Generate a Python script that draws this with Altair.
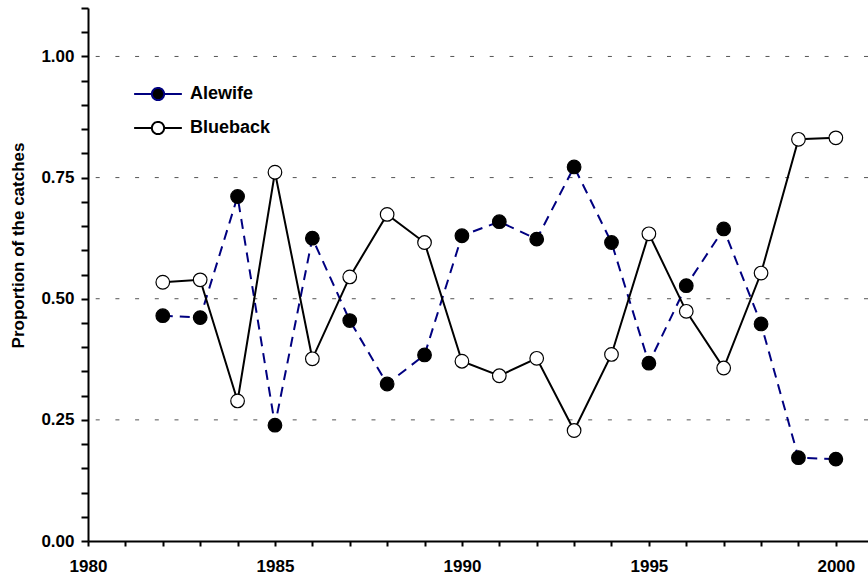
import altair as alt
import pandas as pd

years = list(range(1982, 2001))
alewife = [0.465, 0.461, 0.711, 0.239, 0.625, 0.455, 0.324, 0.384, 0.630, 0.659,
           0.623, 0.772, 0.616, 0.367, 0.527, 0.644, 0.448, 0.172, 0.169]
blueback = [0.534, 0.539, 0.289, 0.761, 0.376, 0.545, 0.674, 0.616, 0.371, 0.341,
            0.377, 0.228, 0.385, 0.634, 0.474, 0.357, 0.553, 0.829, 0.832]
series_names = ["Alewife", "Blueback"]
grid_values = [0.25, 0.50, 0.75, 1.00]
x_ticks = list(range(1980, 2001))
y_ticks = [round(i * 0.05, 2) for i in range(23)]

rows = []
for name, vals in zip(series_names, [alewife, blueback]):
    for yr, v in zip(years, vals):
        rows.append({"year": yr, "value": v, "species": name})
df = pd.DataFrame(rows)
grid_df = pd.DataFrame({"g": grid_values})

FONT = "Liberation Sans"
x_scale = alt.Scale(domain=[1980, 2000.86], nice=False, zero=False)
y_scale = alt.Scale(domain=[0, 1.1], nice=False)

x_axis = alt.Axis(
    values=x_ticks, title=None, ticks=True,
    labelExpr="datum.value % 5 == 0 ? format(datum.value, 'd') : ''",
    labelFont=FONT, labelFontSize=17, labelFontWeight="bold", labelColor="black",
    labelPadding=12, labelFlush=False, labelOverlap=False,
    tickSize=5, tickWidth=2, tickColor="black",
    domainColor="black", domainWidth=2, grid=False,
)
y_axis = alt.Axis(
    values=y_ticks, title="Proportion of the catches", ticks=True,
    labelExpr="(abs(datum.value*4 - round(datum.value*4)) < 0.001 && datum.value <= 1.0001) ? format(datum.value, '.2f') : ''",
    labelFont=FONT, labelFontSize=17, labelFontWeight="bold", labelColor="black",
    labelPadding=7, labelFlush=False, labelOverlap=False,
    tickSize=7, tickWidth=2, tickColor="black",
    domainColor="black", domainWidth=2, grid=False,
    titleFont=FONT, titleFontSize=17, titleFontWeight="bold", titleColor="black",
    titleX=-70, titleY=237, titleAngle=270, titleAlign="center", titleBaseline="middle",
)

LEG_PATH = "M-3.9,0L-1,0M1,0L3.9,0M1,0A1,1,0,1,1,-1,0A1,1,0,1,1,1,0Z"


def make_legend():
    return alt.Legend(
        title=None, orient="none", legendX=61, legendY=77, padding=0,
        symbolType=LEG_PATH, symbolSize=150, symbolStrokeWidth=2,
        symbolOffset=0, labelOffset=23, rowPadding=12, symbolOpacity=1,
        symbolDash=[1, 0],
        labelFont=FONT, labelFontSize=18, labelFontWeight="bold", labelColor="black",
        labelBaseline="middle",
    )


X = alt.X("year:Q", scale=x_scale, axis=x_axis)
Y = alt.Y("value:Q", scale=y_scale, axis=y_axis)
stroke_scale = alt.Scale(domain=series_names, range=["#000080", "black"])

grid = alt.Chart(grid_df).mark_rule(color="#555555", strokeWidth=1, strokeDash=[4, 15.7]).encode(
    y=alt.Y("g:Q", scale=y_scale, axis=y_axis)
)

line_ale = alt.Chart(df).transform_filter(alt.datum.species == "Alewife").mark_line(
    strokeWidth=2, strokeDash=[10, 7]
).encode(
    x=X, y=Y,
    stroke=alt.Stroke("species:N", scale=stroke_scale, legend=make_legend()),
)

line_blue = alt.Chart(df).transform_filter(alt.datum.species == "Blueback").mark_line(
    strokeWidth=2
).encode(
    x=X, y=Y,
    stroke=alt.Stroke("species:N", scale=stroke_scale, legend=make_legend()),
)

points = alt.Chart(df).mark_point(shape="circle", filled=True, size=185, stroke="black", strokeWidth=1.2, opacity=1).encode(
    x=X, y=Y,
    fill=alt.Fill("species:N", scale=alt.Scale(domain=series_names, range=["black", "white"]),
                  legend=make_legend()),
)

chart = alt.layer(grid, line_ale, line_blue, points).properties(
    width=780, height=533,
    padding={"left": 88, "top": 8, "right": 0, "bottom": 42},
    autosize=alt.AutoSizeParams(type="none"),
    background="white",
).configure_view(stroke=None)

chart.save("out.html", embed_options={"renderer": "svg", "actions": False})
